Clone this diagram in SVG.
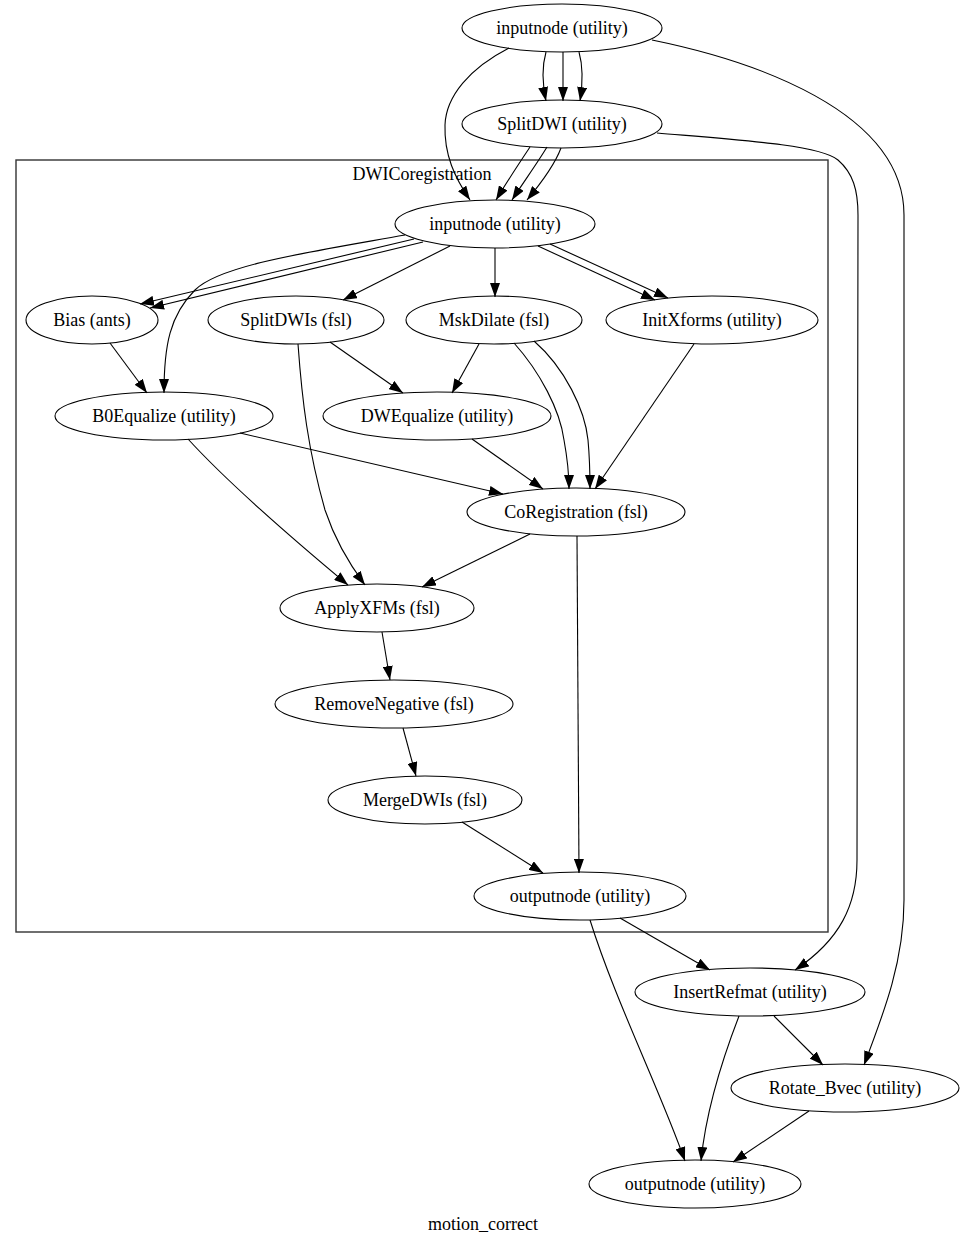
<svg xmlns="http://www.w3.org/2000/svg" width="966" height="1245" viewBox="0 0 966 1245">
<defs>
<style>
.n ellipse{fill:none;stroke:#000;stroke-width:1.1}
text{font-family:"Liberation Serif","Times New Roman",serif;font-size:18px;fill:#000;text-anchor:middle}
.e path{fill:none;stroke:#000;stroke-width:1.1}
</style>
<marker id="a" viewBox="0 0 14 10" refX="14" refY="5" markerWidth="14" markerHeight="10" markerUnits="userSpaceOnUse" orient="auto"><path d="M0,0 L14,5 L0,10 z" fill="#000"/></marker>
</defs>
<rect width="966" height="1245" fill="#fff"/>
<g id="cluster_DWICoregistration">
<rect x="16" y="160" width="812" height="772" fill="none" stroke="#333" stroke-width="1.4"/>
<text x="422" y="180">DWICoregistration</text>
</g>
<g class="e" id="edges" marker-end="url(#a)">
<path d="M546,52 C542,66 542,82 546,101"/>
<path d="M563,52 L563,101"/>
<path d="M579,52 C583,66 583,82 580,101"/>
<path d="M509,48 C470,68 446,96 445,125 C444,155 455,178 470,200"/>
<path d="M530,147 C520,162 508,180 496,200"/>
<path d="M547,147 C538,162 525,180 512,200"/>
<path d="M561,148 C555,164 542,182 527,200"/>
<path d="M657,133 C740,140 820,145 838,160 C853,173 858,190 858,215 L857,860 C857,905 840,940 795,970"/>
<path d="M652,40 C750,60 904,110 904,215 L904,900 C904,960 885,1010 864,1065"/>
<path d="M405,235 C310,252 220,265 195,290 C170,315 164,345 164,393"/>
<path d="M414,239 L140,304"/>
<path d="M423,242 L150,308"/>
<path d="M450,246 L343,300"/>
<path d="M495,248 L495,297"/>
<path d="M538,246 L655,300"/>
<path d="M550,244 L668,298"/>
<path d="M110,343 L147,393"/>
<path d="M330,342 L403,393"/>
<path d="M298,344 C302,400 308,450 325,510 C335,540 350,565 365,585"/>
<path d="M479,344 L452,393"/>
<path d="M514,343 C540,372 560,410 564,440 C568,462 569,478 569,489"/>
<path d="M534,341 C565,368 585,410 588,440 C590,462 590,478 590,489"/>
<path d="M694,344 L595,489"/>
<path d="M472,439 L543,489"/>
<path d="M240,433 L503,494"/>
<path d="M188,439 C230,485 300,545 348,585"/>
<path d="M530,534 L422,587"/>
<path d="M577,536 L579,873"/>
<path d="M382,632 L390,680"/>
<path d="M403,728 L416,776"/>
<path d="M462,822 L543,873"/>
<path d="M620,918 L710,970"/>
<path d="M590,920 C615,1000 660,1090 685,1161"/>
<path d="M739,1016 C722,1060 706,1110 701,1161"/>
<path d="M774,1016 L823,1065"/>
<path d="M809,1111 L733,1162"/>
</g>
<g id="inputnode_top" class="n"><ellipse cx="562" cy="28" rx="100" ry="24"/><text x="562" y="34">inputnode (utility)</text></g>
<g id="SplitDWI" class="n"><ellipse cx="562" cy="124" rx="100" ry="24"/><text x="562" y="130">SplitDWI (utility)</text></g>
<g id="inputnode_inner" class="n"><ellipse cx="495" cy="224" rx="100" ry="24"/><text x="495" y="230">inputnode (utility)</text></g>
<g id="Bias" class="n"><ellipse cx="92" cy="320" rx="66" ry="24"/><text x="92" y="326">Bias (ants)</text></g>
<g id="SplitDWIs" class="n"><ellipse cx="296" cy="320" rx="88" ry="24"/><text x="296" y="326">SplitDWIs (fsl)</text></g>
<g id="MskDilate" class="n"><ellipse cx="494" cy="320" rx="88" ry="24"/><text x="494" y="326">MskDilate (fsl)</text></g>
<g id="InitXforms" class="n"><ellipse cx="712" cy="320" rx="106" ry="24"/><text x="712" y="326">InitXforms (utility)</text></g>
<g id="B0Equalize" class="n"><ellipse cx="164" cy="416" rx="109" ry="24"/><text x="164" y="422">B0Equalize (utility)</text></g>
<g id="DWEqualize" class="n"><ellipse cx="437" cy="416" rx="114" ry="24"/><text x="437" y="422">DWEqualize (utility)</text></g>
<g id="CoRegistration" class="n"><ellipse cx="576" cy="512" rx="109" ry="24"/><text x="576" y="518">CoRegistration (fsl)</text></g>
<g id="ApplyXFMs" class="n"><ellipse cx="377" cy="608" rx="97" ry="24"/><text x="377" y="614">ApplyXFMs (fsl)</text></g>
<g id="RemoveNegative" class="n"><ellipse cx="394" cy="704" rx="119" ry="24"/><text x="394" y="710">RemoveNegative (fsl)</text></g>
<g id="MergeDWIs" class="n"><ellipse cx="425" cy="800" rx="97" ry="24"/><text x="425" y="806">MergeDWIs (fsl)</text></g>
<g id="outputnode_inner" class="n"><ellipse cx="580" cy="896" rx="106" ry="24"/><text x="580" y="902">outputnode (utility)</text></g>
<g id="InsertRefmat" class="n"><ellipse cx="750" cy="992" rx="115" ry="24"/><text x="750" y="998">InsertRefmat (utility)</text></g>
<g id="Rotate_Bvec" class="n"><ellipse cx="845" cy="1088" rx="114" ry="24"/><text x="845" y="1094">Rotate_Bvec (utility)</text></g>
<g id="outputnode" class="n"><ellipse cx="695" cy="1184" rx="106" ry="24"/><text x="695" y="1190">outputnode (utility)</text></g>
<text x="483" y="1230">motion_correct</text>
</svg>
